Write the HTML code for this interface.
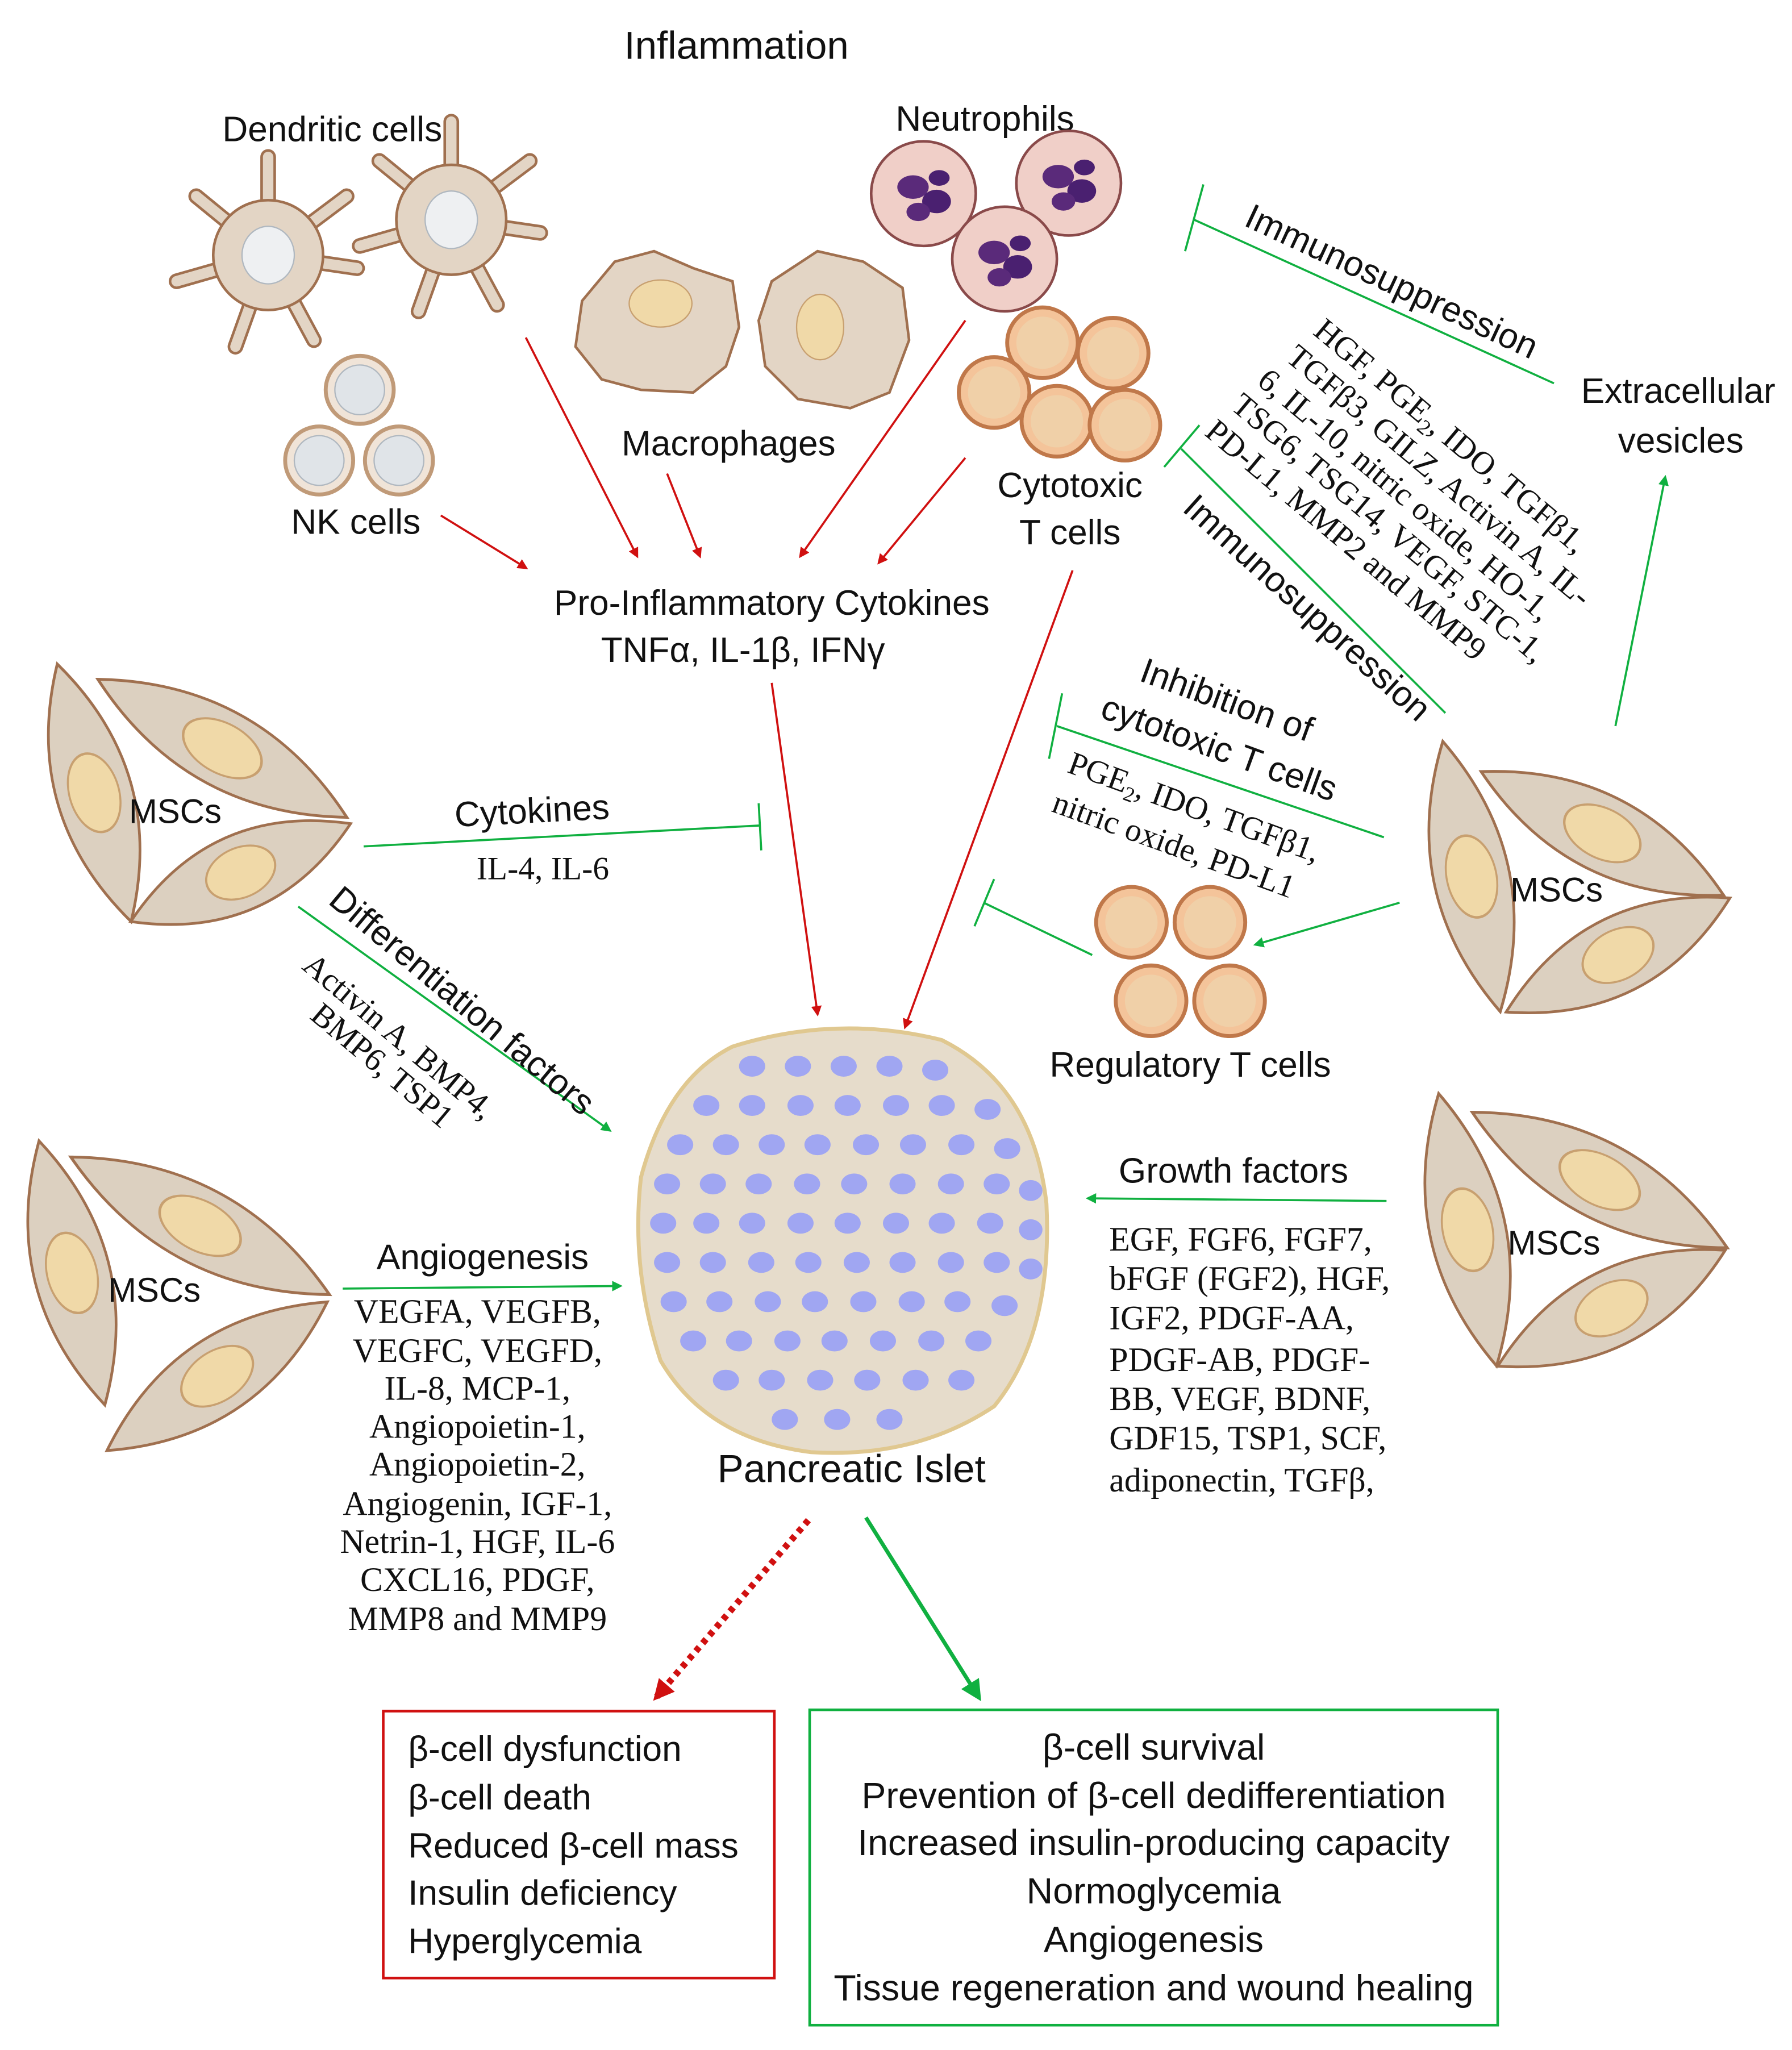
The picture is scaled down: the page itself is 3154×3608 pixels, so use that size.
<!DOCTYPE html>
<html><head><meta charset="utf-8"><style>html,body{margin:0;padding:0;background:#fff}svg{display:block}
.s{font-family:"Liberation Sans",sans-serif;fill:#111}
.r{font-family:"Liberation Serif",serif;fill:#111}
</style></head><body>
<svg width="3154" height="3608" viewBox="0 0 1370 1567" preserveAspectRatio="none" xmlns="http://www.w3.org/2000/svg">
<defs>
<marker id="ar" markerWidth="8" markerHeight="8" refX="6" refY="4" orient="auto" markerUnits="userSpaceOnUse" viewBox="0 0 8 8"><path d="M0,0 L8,4 L0,8 Z" fill="#d01010"/></marker>
<marker id="ag" markerWidth="8" markerHeight="8" refX="6" refY="4" orient="auto" markerUnits="userSpaceOnUse" viewBox="0 0 8 8"><path d="M0,0 L8,4 L0,8 Z" fill="#10b040"/></marker>
<marker id="arb" markerWidth="16" markerHeight="16" refX="12" refY="8" orient="auto" markerUnits="userSpaceOnUse" viewBox="0 0 16 16"><path d="M0,0 L16,8 L0,16 Z" fill="#d01010"/></marker>
<marker id="agb" markerWidth="16" markerHeight="16" refX="12" refY="8" orient="auto" markerUnits="userSpaceOnUse" viewBox="0 0 16 16"><path d="M0,0 L16,8 L0,16 Z" fill="#10b040"/></marker>
<g id="lens"><path d="M-80 0 Q0 -58 80 0 Q0 58 -80 0 Z" fill="#dcd0c0" stroke="#a0704f" stroke-width="2"/><ellipse cx="0" cy="0" rx="24" ry="19" fill="#f0d9a8" stroke="#c8a070" stroke-width="1.5"/></g>
<g id="tc"><circle r="27" fill="#f4c49a" stroke="#c0784a" stroke-width="3"/><circle r="20" fill="#f0d0a8"/></g>
<g id="nk"><circle r="26" fill="#f0e4d8" stroke="#c09a78" stroke-width="3"/><circle r="19" fill="#e0e4e8" stroke="#b0b8c0"/></g>
<g id="ne"><circle r="40" fill="#f0cfc8" stroke="#8a4a4a" stroke-width="2"/><ellipse cx="-8" cy="-5" rx="12" ry="9" fill="#5a2a7a"/><ellipse cx="10" cy="6" rx="11" ry="9" fill="#4a2070"/><ellipse cx="-4" cy="14" rx="9" ry="7" fill="#5a2a7a"/><ellipse cx="12" cy="-12" rx="8" ry="6" fill="#4a2070"/></g>
<g id="dc"><g stroke="#a0704f" stroke-width="12" stroke-linecap="round"><line x1="0" y1="0" x2="0" y2="-75"/><line x1="0" y1="0" x2="60" y2="-45"/><line x1="0" y1="0" x2="68" y2="10"/><line x1="0" y1="0" x2="35" y2="65"/><line x1="0" y1="0" x2="-25" y2="70"/><line x1="0" y1="0" x2="-70" y2="20"/><line x1="0" y1="0" x2="-55" y2="-45"/></g><g stroke="#e3d5c5" stroke-width="8" stroke-linecap="round"><line x1="0" y1="0" x2="0" y2="-75"/><line x1="0" y1="0" x2="60" y2="-45"/><line x1="0" y1="0" x2="68" y2="10"/><line x1="0" y1="0" x2="35" y2="65"/><line x1="0" y1="0" x2="-25" y2="70"/><line x1="0" y1="0" x2="-70" y2="20"/><line x1="0" y1="0" x2="-55" y2="-45"/></g><circle r="42" fill="#e3d5c5" stroke="#a0704f" stroke-width="2"/><ellipse rx="20" ry="22" fill="#eef0f2" stroke="#b0b8c0"/></g>
</defs>

<text class="s" x="563" y="45" font-size="30" text-anchor="middle">Inflammation</text>
<text class="s" x="254" y="108" font-size="27" text-anchor="middle">Dendritic cells</text>
<text class="s" x="753" y="100" font-size="27" text-anchor="middle">Neutrophils</text>
<text class="s" x="557" y="348" font-size="27" text-anchor="middle">Macrophages</text>
<text class="s" x="272" y="408" font-size="27" text-anchor="middle">NK cells</text>
<text class="s" x="818" y="380" font-size="27" text-anchor="middle">Cytotoxic</text>
<text class="s" x="818" y="416" font-size="27" text-anchor="middle">T cells</text>
<text class="s" x="1283" y="308" font-size="27" text-anchor="middle">Extracellular</text>
<text class="s" x="1285" y="346" font-size="27" text-anchor="middle">vesicles</text>
<text class="s" x="590" y="470" font-size="27" text-anchor="middle">Pro-Inflammatory Cytokines</text>
<text class="s" x="568" y="506" font-size="27" text-anchor="middle">TNFα, IL-1β, IFNγ</text>

<use href="#dc" x="205" y="195"/><use href="#dc" x="345" y="168"/>
<use href="#nk" x="275" y="298"/><use href="#nk" x="244" y="352"/><use href="#nk" x="305" y="352"/>
<path d="M445 230 L470 200 L500 192 L530 205 L560 215 L565 250 L555 280 L530 300 L490 298 L460 290 L440 265 Z" fill="#e3d5c5" stroke="#a0704f" stroke-width="2"/>
<ellipse cx="505" cy="232" rx="24" ry="18" fill="#f0d9a8" stroke="#c8a070"/>
<path d="M590 215 L625 192 L660 200 L690 220 L695 260 L680 300 L650 312 L610 305 L585 280 L580 245 Z" fill="#e3d5c5" stroke="#a0704f" stroke-width="2"/>
<ellipse cx="627" cy="250" rx="18" ry="25" fill="#f0d9a8" stroke="#c8a070"/>
<use href="#ne" x="706" y="148"/><use href="#ne" x="817" y="140"/><use href="#ne" x="768" y="198"/>
<use href="#tc" x="797" y="262"/><use href="#tc" x="851" y="270"/><use href="#tc" x="760" y="300"/><use href="#tc" x="808" y="322"/><use href="#tc" x="860" y="325"/>

<g stroke="#d01010" stroke-width="1.6" fill="none">
<line x1="402" y1="258" x2="487" y2="425" marker-end="url(#ar)"/>
<line x1="510" y1="362" x2="535" y2="425" marker-end="url(#ar)"/>
<line x1="738" y1="245" x2="612" y2="425" marker-end="url(#ar)"/>
<line x1="738" y1="350" x2="672" y2="430" marker-end="url(#ar)"/>
<line x1="337" y1="394" x2="402" y2="434" marker-end="url(#ar)"/>
<line x1="590" y1="522" x2="625" y2="775" marker-end="url(#ar)"/>
<line x1="820" y1="436" x2="692" y2="785" marker-end="url(#ar)"/>
<line x1="618" y1="1162" x2="502" y2="1297" stroke-width="5" stroke-dasharray="4 4" marker-end="url(#arb)"/>
</g>
<g stroke="#10b040" stroke-width="1.6" fill="none">
<line x1="1188" y1="293" x2="913" y2="168"/><line x1="906" y1="192" x2="920" y2="141"/>
<line x1="1105" y1="545" x2="903" y2="343"/><line x1="890" y1="357" x2="917" y2="325"/>
<line x1="1235" y1="555" x2="1273" y2="365" marker-end="url(#ag)"/>
<line x1="1058" y1="640" x2="808" y2="555"/><line x1="802" y1="580" x2="812" y2="530"/>
<line x1="1070" y1="690" x2="960" y2="722" marker-end="url(#ag)"/>
<line x1="835" y1="730" x2="752" y2="690"/><line x1="745" y1="708" x2="760" y2="672"/>
<line x1="278" y1="647" x2="581" y2="631"/><line x1="580" y1="614" x2="582" y2="650"/>
<line x1="228" y1="693" x2="466" y2="864" marker-end="url(#ag)"/>
<line x1="262" y1="985" x2="474" y2="983" marker-end="url(#ag)"/>
<line x1="1060" y1="918" x2="832" y2="916" marker-end="url(#ag)"/>
<line x1="662" y1="1160" x2="748" y2="1297" stroke-width="3" marker-end="url(#agb)"/>
</g>

<text class="s" font-size="27" transform="translate(950,172) rotate(25)">Immunosuppression</text>
<g class="r" font-size="25">
<text transform="translate(1003,255) rotate(40)">HGF, PGE<tspan font-size="16" dy="5">2</tspan><tspan dy="-5">, IDO, TGFβ1,</tspan></text>
<text transform="translate(982,275) rotate(40)">TGFβ3, GILZ, Activin A, IL-</text>
<text transform="translate(960,293) rotate(40)">6, IL-10, nitric oxide, HO-1,</text>
<text transform="translate(940,312) rotate(40)">TSG6, TSG14, VEGF, STC-1,</text>
<text transform="translate(920,332) rotate(40)">PD-L1, MMP2 and MMP9</text>
</g>
<text class="s" font-size="27" transform="translate(903,390) rotate(42)">Immunosuppression</text>
<text class="s" font-size="27" transform="translate(870,520) rotate(20)">Inhibition of</text>
<text class="s" font-size="27" transform="translate(840,548) rotate(20)">cytotoxic T cells</text>
<text class="r" font-size="25" transform="translate(815,590) rotate(20)">PGE<tspan font-size="16" dy="5">2</tspan><tspan dy="-5">, IDO, TGFβ1,</tspan></text>
<text class="r" font-size="25" transform="translate(803,620) rotate(20)">nitric oxide, PD-L1</text>

<use href="#tc" x="865" y="705"/><use href="#tc" x="925" y="705"/><use href="#tc" x="880" y="765"/><use href="#tc" x="940" y="765"/>
<text class="s" x="910" y="823" font-size="27" text-anchor="middle">Regulatory T cells</text>

<use href="#lens" transform="translate(72,606) rotate(74) scale(1.28,1)"/>
<use href="#lens" transform="translate(170,572) rotate(29) scale(1.36,1)"/>
<use href="#lens" transform="translate(184,667) rotate(-24) scale(1.15,1)"/>
<text class="s" x="134" y="629" font-size="26" text-anchor="middle">MSCs</text>

<use href="#lens" transform="translate(1125,670) rotate(78) scale(1.32,1)"/>
<use href="#lens" transform="translate(1225,637) rotate(27) scale(1.3,1)"/>
<use href="#lens" transform="translate(1237,730) rotate(-27) scale(1.2,1)"/>
<text class="s" x="1190" y="689" font-size="26" text-anchor="middle">MSCs</text>

<use href="#lens" transform="translate(1122,940) rotate(78) scale(1.33,1)"/>
<use href="#lens" transform="translate(1223,902) rotate(28) scale(1.38,1)"/>
<use href="#lens" transform="translate(1232,1000) rotate(-27) scale(1.22,1)"/>
<text class="s" x="1188" y="959" font-size="26" text-anchor="middle">MSCs</text>

<use href="#lens" transform="translate(55,973) rotate(76) scale(1.3,1)"/>
<use href="#lens" transform="translate(153,937) rotate(28) scale(1.4,1)"/>
<use href="#lens" transform="translate(166,1052) rotate(-34) scale(1.27,1)"/>
<text class="s" x="118" y="995" font-size="26" text-anchor="middle">MSCs</text>

<text class="s" font-size="27" transform="translate(348,632) rotate(-3)">Cytokines</text>
<text class="r" x="415" y="672" font-size="25" text-anchor="middle">IL-4, IL-6</text>
<text class="s" font-size="27" transform="translate(250,690) rotate(40)">Differentiation factors</text>
<text class="r" font-size="25" transform="translate(230,740) rotate(40)">Activin A, BMP4,</text>
<text class="r" font-size="25" transform="translate(236,778) rotate(40)">BMP6, TSP1</text>

<text class="s" x="369" y="970" font-size="27" text-anchor="middle">Angiogenesis</text>
<g class="r" font-size="26" text-anchor="middle">
<text x="365" y="1011">VEGFA, VEGFB,</text><text x="365" y="1041">VEGFC, VEGFD,</text><text x="365" y="1070">IL-8, MCP-1,</text><text x="365" y="1099">Angiopoietin-1,</text><text x="365" y="1128">Angiopoietin-2,</text><text x="365" y="1158">Angiogenin, IGF-1,</text><text x="365" y="1187">Netrin-1, HGF, IL-6</text><text x="365" y="1216">CXCL16,  PDGF,</text><text x="365" y="1246">MMP8 and MMP9</text>
</g>
<text class="s" x="943" y="904" font-size="27" text-anchor="middle">Growth factors</text>
<g class="r" font-size="26">
<text x="848" y="956">EGF, FGF6, FGF7,</text><text x="848" y="986">bFGF (FGF2), HGF,</text><text x="848" y="1016">IGF2, PDGF-AA,</text><text x="848" y="1048">PDGF-AB, PDGF-</text><text x="848" y="1078">BB, VEGF, BDNF,</text><text x="848" y="1108">GDF15, TSP1, SCF,</text><text x="848" y="1140">adiponectin, TGFβ,</text>
</g>

<path d="M560 800 Q640 775 720 795 Q790 830 800 920 Q805 1020 760 1075 Q700 1115 620 1110 Q540 1100 505 1040 Q482 970 490 900 Q510 825 560 800 Z" fill="#e6dccb" stroke="#e0c890" stroke-width="3"/>
<g fill="#a0a6f2">
<ellipse cx="575" cy="815" rx="10" ry="8"/><ellipse cx="610" cy="815" rx="10" ry="8"/><ellipse cx="645" cy="815" rx="10" ry="8"/><ellipse cx="680" cy="815" rx="10" ry="8"/><ellipse cx="715" cy="818" rx="10" ry="8"/>
<ellipse cx="540" cy="845" rx="10" ry="8"/><ellipse cx="575" cy="845" rx="10" ry="8"/><ellipse cx="612" cy="845" rx="10" ry="8"/><ellipse cx="648" cy="845" rx="10" ry="8"/><ellipse cx="685" cy="845" rx="10" ry="8"/><ellipse cx="720" cy="845" rx="10" ry="8"/><ellipse cx="755" cy="848" rx="10" ry="8"/>
<ellipse cx="520" cy="875" rx="10" ry="8"/><ellipse cx="555" cy="875" rx="10" ry="8"/><ellipse cx="590" cy="875" rx="10" ry="8"/><ellipse cx="625" cy="875" rx="10" ry="8"/><ellipse cx="662" cy="875" rx="10" ry="8"/><ellipse cx="698" cy="875" rx="10" ry="8"/><ellipse cx="735" cy="875" rx="10" ry="8"/><ellipse cx="770" cy="878" rx="10" ry="8"/>
<ellipse cx="510" cy="905" rx="10" ry="8"/><ellipse cx="545" cy="905" rx="10" ry="8"/><ellipse cx="580" cy="905" rx="10" ry="8"/><ellipse cx="617" cy="905" rx="10" ry="8"/><ellipse cx="653" cy="905" rx="10" ry="8"/><ellipse cx="690" cy="905" rx="10" ry="8"/><ellipse cx="727" cy="905" rx="10" ry="8"/><ellipse cx="762" cy="905" rx="10" ry="8"/><ellipse cx="788" cy="910" rx="9" ry="8"/>
<ellipse cx="507" cy="935" rx="10" ry="8"/><ellipse cx="540" cy="935" rx="10" ry="8"/><ellipse cx="575" cy="935" rx="10" ry="8"/><ellipse cx="612" cy="935" rx="10" ry="8"/><ellipse cx="648" cy="935" rx="10" ry="8"/><ellipse cx="685" cy="935" rx="10" ry="8"/><ellipse cx="720" cy="935" rx="10" ry="8"/><ellipse cx="757" cy="935" rx="10" ry="8"/><ellipse cx="788" cy="940" rx="9" ry="8"/>
<ellipse cx="510" cy="965" rx="10" ry="8"/><ellipse cx="545" cy="965" rx="10" ry="8"/><ellipse cx="582" cy="965" rx="10" ry="8"/><ellipse cx="618" cy="965" rx="10" ry="8"/><ellipse cx="655" cy="965" rx="10" ry="8"/><ellipse cx="690" cy="965" rx="10" ry="8"/><ellipse cx="727" cy="965" rx="10" ry="8"/><ellipse cx="762" cy="965" rx="10" ry="8"/><ellipse cx="788" cy="970" rx="9" ry="8"/>
<ellipse cx="515" cy="995" rx="10" ry="8"/><ellipse cx="550" cy="995" rx="10" ry="8"/><ellipse cx="587" cy="995" rx="10" ry="8"/><ellipse cx="623" cy="995" rx="10" ry="8"/><ellipse cx="660" cy="995" rx="10" ry="8"/><ellipse cx="697" cy="995" rx="10" ry="8"/><ellipse cx="732" cy="995" rx="10" ry="8"/><ellipse cx="768" cy="998" rx="10" ry="8"/>
<ellipse cx="530" cy="1025" rx="10" ry="8"/><ellipse cx="565" cy="1025" rx="10" ry="8"/><ellipse cx="602" cy="1025" rx="10" ry="8"/><ellipse cx="638" cy="1025" rx="10" ry="8"/><ellipse cx="675" cy="1025" rx="10" ry="8"/><ellipse cx="712" cy="1025" rx="10" ry="8"/><ellipse cx="748" cy="1025" rx="10" ry="8"/>
<ellipse cx="555" cy="1055" rx="10" ry="8"/><ellipse cx="590" cy="1055" rx="10" ry="8"/><ellipse cx="627" cy="1055" rx="10" ry="8"/><ellipse cx="663" cy="1055" rx="10" ry="8"/><ellipse cx="700" cy="1055" rx="10" ry="8"/><ellipse cx="735" cy="1055" rx="10" ry="8"/>
<ellipse cx="600" cy="1085" rx="10" ry="8"/><ellipse cx="640" cy="1085" rx="10" ry="8"/><ellipse cx="680" cy="1085" rx="10" ry="8"/>
</g>
<text class="s" x="651" y="1133" font-size="30" text-anchor="middle">Pancreatic Islet</text>

<rect x="293" y="1308" width="299" height="204" fill="none" stroke="#d01010" stroke-width="2"/>
<g class="s" font-size="27">
<text x="312" y="1346">β-cell dysfunction</text><text x="312" y="1383">β-cell death</text><text x="312" y="1420">Reduced β-cell mass</text><text x="312" y="1456">Insulin deficiency</text><text x="312" y="1493">Hyperglycemia</text>
</g>
<rect x="619" y="1307" width="526" height="241" fill="none" stroke="#10b040" stroke-width="2"/>
<g class="s" font-size="28" text-anchor="middle">
<text x="882" y="1345">β-cell survival</text><text x="882" y="1382">Prevention of β-cell dedifferentiation</text><text x="882" y="1418">Increased insulin-producing capacity</text><text x="882" y="1455">Normoglycemia</text><text x="882" y="1492">Angiogenesis</text><text x="882" y="1529">Tissue regeneration and wound healing</text>
</g>
</svg>
</body></html>
